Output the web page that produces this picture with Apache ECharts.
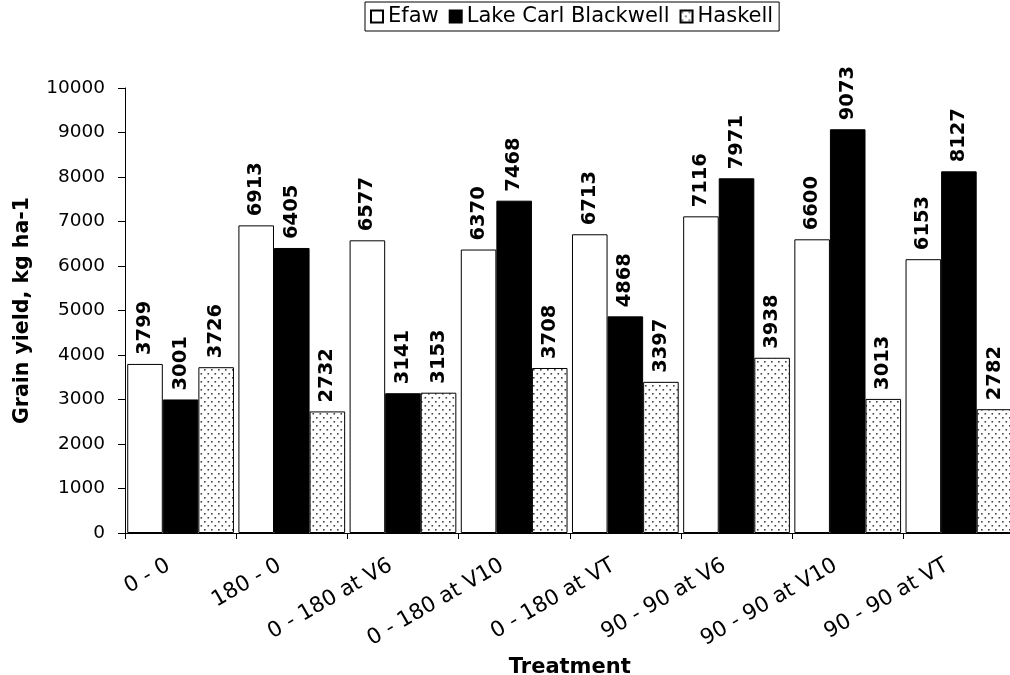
<!DOCTYPE html>
<html>
<head>
<meta charset="utf-8">
<script src="https://cdn.jsdelivr.net/npm/echarts@6/dist/echarts.min.js"></script>
<style>
  html, body { margin: 0; padding: 0; background: #fff; }
  #chart { width: 1010px; height: 675px; }
</style>
</head>
<body>
<div id="chart"></div>
<script>
// Nitrogen timing treatments and grain yield (kg/ha) at three sites
const categories = ["0 - 0", "180 - 0", "0 - 180 at V6", "0 - 180 at V10", "0 - 180 at VT", "90 - 90 at V6", "90 - 90 at V10", "90 - 90 at VT"];
const efaw = [3799, 6913, 6577, 6370, 6713, 7116, 6600, 6153];
const lakeCarlBlackwell = [3001, 6405, 3141, 7468, 4868, 7971, 9073, 8127];
const haskell = [3726, 2732, 3153, 3708, 3397, 3938, 3013, 2782];
const yTicks = { min: 0, max: 10000, step: 1000 };

const FONT = "DejaVu Sans";

// Dotted fill for the Haskell series
function dotPattern() {
  const c = document.createElement("canvas");
  c.width = 7; c.height = 8;
  const ctx = c.getContext("2d");
  ctx.fillStyle = "#fff";
  ctx.fillRect(0, 0, 7, 8);
  ctx.fillStyle = "#444";
  ctx.fillRect(1, 1, 1.6, 1.6);
  ctx.fillRect(4.5, 5, 1.6, 1.6);
  return c;
}
const dots = { image: dotPattern(), repeat: "repeat" };

const labelStyle = {
  show: true,
  position: "top",
  rotate: 90,
  align: "left",
  verticalAlign: "middle",
  distance: 9,
  color: "#000",
  fontFamily: FONT,
  fontWeight: "bold",
  fontSize: 19.5
};

function barSeries(name, data, fill) {
  return {
    name: name,
    type: "bar",
    data: data,
    barGap: "0%",
    barCategoryGap: "4%",
    itemStyle: { color: fill, borderColor: "#000", borderWidth: 1 },
    label: labelStyle,
    emphasis: { disabled: true }
  };
}

const chart = echarts.init(document.getElementById("chart"), null, { renderer: "canvas" });
chart.setOption({
  animation: false,
  backgroundColor: "#fff",
  textStyle: { fontFamily: FONT, color: "#000" },
  legend: {
    top: 2,
    left: 365,
    itemWidth: 12,
    itemHeight: 12,
    itemGap: 10,
    padding: [4, 6, 4, 5],
    borderColor: "#000",
    borderWidth: 1,
    borderRadius: 0,
    icon: "rect",
    textStyle: { fontFamily: FONT, fontSize: 21, color: "#000", padding: [0, 0, 0, 0] },
    data: ["Efaw", "Lake Carl Blackwell", "Haskell"]
  },
  grid: { left: 125, right: -4.5, top: 88, bottom: 142, containLabel: false, outerBoundsMode: "none" },
  xAxis: {
    type: "category",
    data: categories,
    name: "Treatment",
    nameLocation: "middle",
    nameGap: 100,
    nameTextStyle: { fontFamily: FONT, fontWeight: "bold", fontSize: 21, color: "#000" },
    axisLine: { lineStyle: { color: "#000", width: 1 } },
    axisTick: { show: true, length: 6, lineStyle: { color: "#000" } },
    axisLabel: { rotate: 30, margin: 24, padding: [0, 14, 0, 0], fontFamily: FONT, fontSize: 21.5, color: "#000", interval: 0 }
  },
  yAxis: {
    type: "value",
    min: yTicks.min,
    max: yTicks.max,
    interval: yTicks.step,
    name: "Grain yield, kg ha-1",
    nameLocation: "middle",
    nameGap: 92,
    nameTextStyle: { fontFamily: FONT, fontWeight: "bold", fontSize: 20.5, color: "#000" },
    splitLine: { show: false },
    axisLine: { show: true, lineStyle: { color: "#000", width: 1 } },
    axisTick: { show: true, length: 7, lineStyle: { color: "#000" } },
    axisLabel: { fontFamily: FONT, fontSize: 18.5, color: "#000", margin: 20, formatter: (v) => String(v) }
  },
  series: [
    barSeries("Efaw", efaw, "#fff"),
    barSeries("Lake Carl Blackwell", lakeCarlBlackwell, "#000"),
    barSeries("Haskell", haskell, dots)
  ]
});
</script>
</body>
</html>
